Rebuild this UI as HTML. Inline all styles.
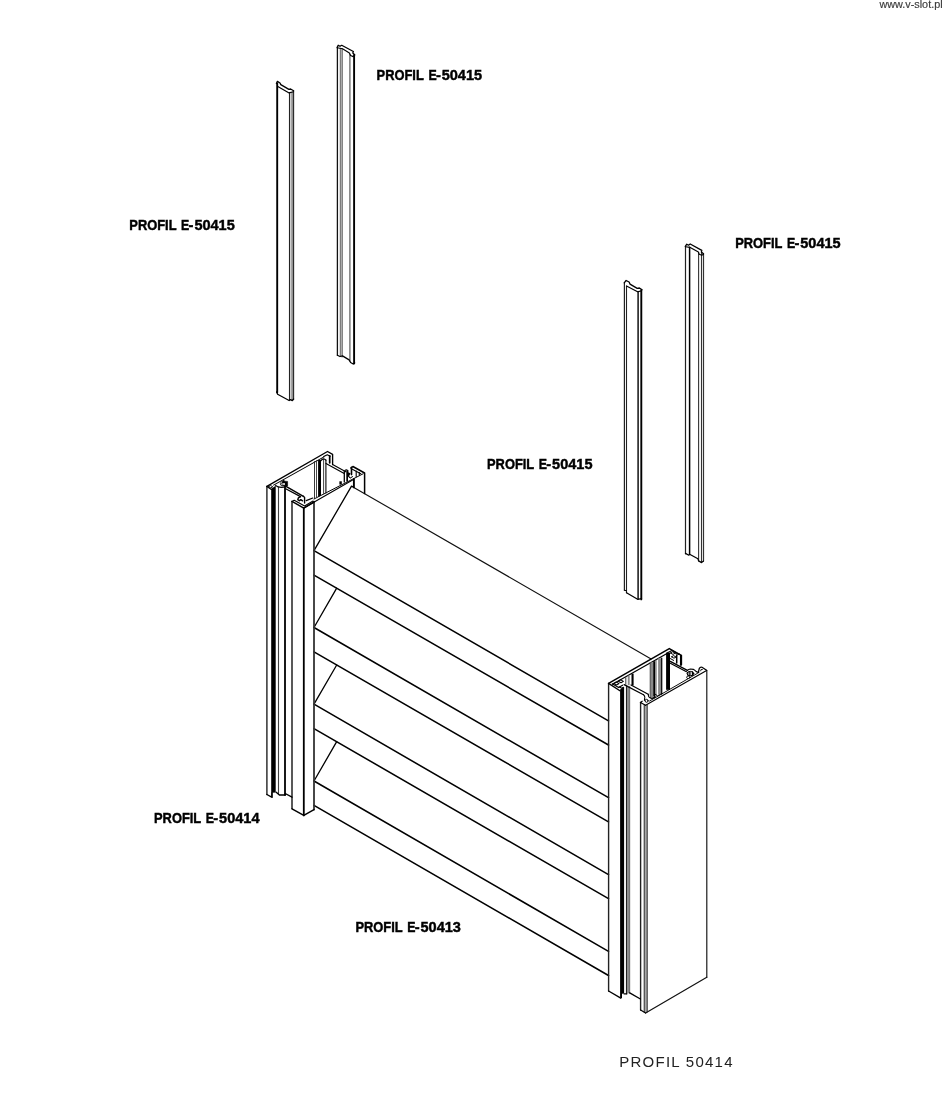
<!DOCTYPE html>
<html lang="pl">
<head>
<meta charset="utf-8">
<title>PROFIL 50414</title>
<style>
html,body{margin:0;padding:0;background:#fff;}
body{width:942px;height:1100px;overflow:hidden;position:relative;font-family:"Liberation Sans",sans-serif;}
svg{position:absolute;left:0;top:0;display:block;will-change:transform;}
svg text{font-family:"Liberation Sans",sans-serif;}
.lb{font-weight:bold;font-size:14.6px;fill:#000;stroke:#000;stroke-width:0.45px;stroke-linejoin:miter;}
</style>
</head>
<body>
<svg width="942" height="1100" viewBox="0 0 942 1100" stroke-linecap="round" stroke-linejoin="round">
<!-- strip 1 -->
<line x1="277.2" y1="83.5" x2="277.2" y2="392.4" stroke="#000" stroke-width="1.9"/>
<line x1="289.5" y1="92.5" x2="289.5" y2="400.0" stroke="#222" stroke-width="1.1"/>
<line x1="291.2" y1="92.3" x2="291.2" y2="400.0" stroke="#666" stroke-width="0.8"/>
<line x1="292.4" y1="92.0" x2="292.4" y2="400.0" stroke="#666" stroke-width="0.8"/>
<line x1="293.6" y1="90.8" x2="293.6" y2="399.6" stroke="#222" stroke-width="1.1"/>
<polyline points="276.4,83.5 277.4,81.4 280.0,83.0 280.8,84.6 288.9,89.4 290.6,89.0 293.6,90.8" fill="none" stroke="#000" stroke-width="1.3" />
<polyline points="277.8,86.5 289.1,92.9 293.4,91.8" fill="none" stroke="#000" stroke-width="1.15" />
<polyline points="276.6,391.8 277.6,394.2 289.1,400.5 290.5,399.6 292.3,400.6 293.6,399.0" fill="none" stroke="#000" stroke-width="1.25" />
<!-- strip 2 -->
<line x1="337.4" y1="47.4" x2="337.4" y2="355.0" stroke="#111" stroke-width="1.3"/>
<line x1="340.3" y1="48.3" x2="340.3" y2="356.3" stroke="#333" stroke-width="0.8"/>
<line x1="342.1" y1="48.7" x2="342.1" y2="357.0" stroke="#333" stroke-width="1.0"/>
<line x1="349.9" y1="54.5" x2="349.9" y2="361.0" stroke="#666" stroke-width="1.3"/>
<line x1="354.1" y1="55.0" x2="354.1" y2="363.5" stroke="#000" stroke-width="1.9"/>
<polyline points="337.2,47.4 338.2,45.3 340.0,46.3 341.7,45.3 353.4,51.5 352.8,53.0 354.7,54.7" fill="none" stroke="#000" stroke-width="1.3" />
<polyline points="337.2,47.8 342.5,48.7 349.4,52.9 350.6,55.5 353.2,56.6 354.7,55.2" fill="none" stroke="#000" stroke-width="1.15" />
<polyline points="337.3,355.2 340.0,356.5 342.5,355.9 349.1,359.9 350.6,362.5 353.2,364.0 354.7,362.9" fill="none" stroke="#000" stroke-width="1.25" />
<!-- strip 3 -->
<line x1="624.4" y1="282.8" x2="624.4" y2="590.0" stroke="#222" stroke-width="1.2"/>
<line x1="626.5" y1="286.0" x2="626.5" y2="592.8" stroke="#222" stroke-width="1.1"/>
<line x1="638.1" y1="291.8" x2="638.1" y2="599.0" stroke="#111" stroke-width="1.5"/>
<line x1="641.3" y1="290.0" x2="641.3" y2="599.4" stroke="#000" stroke-width="1.9"/>
<polyline points="624.2,282.8 626.1,280.5 629.1,282.0 630.0,284.1 637.2,288.4 639.4,288.0 642.1,289.7" fill="none" stroke="#000" stroke-width="1.3" />
<polyline points="626.5,286.0 637.6,291.8 641.5,290.9" fill="none" stroke="#000" stroke-width="1.15" />
<polyline points="624.4,590.2 626.3,590.8" fill="none" stroke="#000" stroke-width="1.2" />
<polyline points="626.5,592.8 637.6,599.3 641.5,598.6" fill="none" stroke="#000" stroke-width="1.3" />
<!-- strip 4 -->
<line x1="685.5" y1="246.5" x2="685.5" y2="553.8" stroke="#222" stroke-width="1.2"/>
<line x1="689.6" y1="247.3" x2="689.6" y2="554.6" stroke="#000" stroke-width="1.5"/>
<line x1="698.6" y1="252.5" x2="698.6" y2="560.9" stroke="#333" stroke-width="1.1"/>
<line x1="701.5" y1="252.0" x2="701.5" y2="562.5" stroke="#333" stroke-width="1.1"/>
<line x1="703.5" y1="253.8" x2="703.5" y2="561.1" stroke="#333" stroke-width="1.2"/>
<polyline points="685.3,246.3 686.8,244.2 688.5,245.2 690.2,244.0 701.8,250.4 701.4,252.1 703.5,253.8" fill="none" stroke="#000" stroke-width="1.3" />
<polyline points="685.5,246.7 690.2,247.4 698.4,252.1 699.2,254.2 701.8,255.3 703.5,254.2" fill="none" stroke="#000" stroke-width="1.15" />
<polyline points="685.5,553.4 688.8,555.2 689.6,554.2 697.9,558.8 698.6,560.9 701.6,562.6 703.5,561.1" fill="none" stroke="#000" stroke-width="1.25" />
<!-- louvres -->
<line x1="314.0" y1="550.7" x2="608.5" y2="720.9" stroke="#000" stroke-width="1.55"/>
<line x1="314.0" y1="575.1" x2="608.5" y2="745.0" stroke="#000" stroke-width="1.55"/>
<line x1="314.0" y1="627.5" x2="608.5" y2="797.7" stroke="#000" stroke-width="1.55"/>
<line x1="314.0" y1="651.9" x2="608.5" y2="821.8" stroke="#000" stroke-width="1.55"/>
<line x1="314.0" y1="704.2" x2="608.5" y2="874.6" stroke="#000" stroke-width="1.55"/>
<line x1="314.0" y1="728.6" x2="608.5" y2="898.7" stroke="#000" stroke-width="1.55"/>
<line x1="314.0" y1="781.0" x2="608.5" y2="951.4" stroke="#000" stroke-width="1.55"/>
<line x1="314.0" y1="805.4" x2="608.5" y2="975.5" stroke="#000" stroke-width="1.55"/>
<polyline points="314.0,550.7 351.5,486.1 353.8,487.4" fill="none" stroke="#000" stroke-width="1.3" />
<line x1="353.8" y1="487.4" x2="651.1" y2="658.9" stroke="#111" stroke-width="1.15"/>
<line x1="314.0" y1="627.5" x2="336.7" y2="588.2" stroke="#000" stroke-width="1.3"/>
<line x1="314.0" y1="704.2" x2="336.7" y2="665.0" stroke="#000" stroke-width="1.3"/>
<line x1="314.0" y1="781.0" x2="336.7" y2="741.7" stroke="#000" stroke-width="1.3"/>
<!-- left post -->
<line x1="266.9" y1="486.4" x2="266.9" y2="794.5" stroke="#222" stroke-width="1.4"/>
<polygon points="271.2,489.4 275.7,485.6 275.7,792.6 272.2,792.8 272.2,797.0 271.2,796.6" fill="#000" stroke="none" stroke-width="0"/>
<line x1="278.5" y1="487.0" x2="278.5" y2="793.8" stroke="#444" stroke-width="1.1"/>
<line x1="285.0" y1="487.0" x2="285.0" y2="795.0" stroke="#000" stroke-width="1.8"/>
<line x1="292.0" y1="501.4" x2="292.0" y2="808.6" stroke="#222" stroke-width="1.5"/>
<line x1="303.8" y1="508.1" x2="303.8" y2="815.4" stroke="#000" stroke-width="1.8"/>
<line x1="314.0" y1="501.6" x2="314.0" y2="809.5" stroke="#333" stroke-width="1.8"/>
<polyline points="266.9,794.5 272.1,797.4 272.1,792.8" fill="none" stroke="#000" stroke-width="1.37" />
<polyline points="276.2,792.2 279.4,795.0 285.2,795.0 285.2,793.5 292.0,797.2" fill="none" stroke="#000" stroke-width="1.37" />
<polyline points="292.0,808.9 303.8,815.4 314.0,809.7" fill="none" stroke="#000" stroke-width="1.49" />
<polyline points="266.9,486.4 327.5,451.5 332.6,454.3 332.6,464.6" fill="none" stroke="#000" stroke-width="1.35" />
<line x1="273.6" y1="485.1" x2="324.0" y2="456.9" stroke="#000" stroke-width="1.05"/>
<polyline points="266.9,486.4 271.4,489.4 274.4,487.7" fill="none" stroke="#000" stroke-width="1.25" />
<path d="M275.7,485.4 L278.2,486.9 Q282,488 285.9,486.4" fill="none" stroke="#000" stroke-width="1.2"/>
<polyline points="268.6,486.6 270.8,487.9 272.8,486.8 270.6,485.5 268.6,486.6" fill="none" stroke="#000" stroke-width="0.9" />
<polyline points="323.7,456.6 327.3,454.8 330.2,456.2" fill="none" stroke="#000" stroke-width="1.13" />
<line x1="329.7" y1="455.8" x2="329.7" y2="462.8" stroke="#000" stroke-width="1.73"/>
<path d="M281.4,481.8 Q279.0,483.7 281.4,485.8 L287.6,485.9 L287.6,481.4 L284.8,481.2 L283.5,479.8 L282.6,481.3 Z" fill="#000" stroke="#000" stroke-width="0.6"/>
<rect x="282.3" y="483.0" width="2.7" height="2.0" fill="#c4c4c4"/>
<path d="M281.6,482.2 Q280.4,483.6 281.6,485.0" fill="none" stroke="#fff" stroke-width="0.7"/>
<line x1="285.6" y1="486.1" x2="303.4" y2="496.3" stroke="#000" stroke-width="1.37"/>
<line x1="285.7" y1="488.8" x2="300.5" y2="496.6" stroke="#000" stroke-width="1.25"/>
<polyline points="303.4,496.3 304.6,497.4 304.6,503.0" fill="none" stroke="#000" stroke-width="1.37" />
<polyline points="300.5,496.6 298.4,497.8 297.8,499.6 299.4,500.8 300.8,499.6 302.6,500.8" fill="none" stroke="#000" stroke-width="1.4" />
<polyline points="292.0,501.4 303.8,508.1 314.0,502.0" fill="none" stroke="#000" stroke-width="1.49" />
<polyline points="292.0,501.4 294.2,500.2 304.6,506.0 313.0,501.0" fill="none" stroke="#000" stroke-width="1.13" />
<line x1="303.8" y1="507.9" x2="352.6" y2="480.0" stroke="#000" stroke-width="1.1"/>
<line x1="306.2" y1="500.6" x2="312.8" y2="498.0" stroke="#000" stroke-width="1.2"/>
<line x1="314.0" y1="499.0" x2="363.1" y2="473.8" stroke="#000" stroke-width="1.0"/>
<line x1="314.5" y1="461.6" x2="314.5" y2="498.7" stroke="#222" stroke-width="0.9"/>
<line x1="316.5" y1="460.6" x2="316.5" y2="497.7" stroke="#333" stroke-width="0.9"/>
<polygon points="318.1,460.0 321.0,460.0 321.0,495.4 318.1,496.9" fill="#000" stroke="none" stroke-width="0"/>
<line x1="323.6" y1="459.4" x2="323.6" y2="494.0" stroke="#444" stroke-width="1.0"/>
<line x1="325.9" y1="460.0" x2="325.9" y2="492.9" stroke="#222" stroke-width="1.25"/>
<path d="M321.0,460.6 Q323.5,457.4 325.9,460.2" fill="none" stroke="#000" stroke-width="1.2"/>
<line x1="332.6" y1="464.6" x2="345.8" y2="471.8" stroke="#000" stroke-width="1.15"/>
<line x1="326.0" y1="463.4" x2="344.2" y2="473.4" stroke="#000" stroke-width="1.15"/>
<line x1="344.3" y1="472.2" x2="344.3" y2="482.0" stroke="#000" stroke-width="1.3"/>
<rect x="346.3" y="470.2" width="1.7" height="11.4" fill="#000"/>
<path d="M344.2,471.6 Q346.4,468.2 348.2,471" fill="none" stroke="#000" stroke-width="1.2"/>
<polygon points="348.0,472.0 350.6,473.6 348.0,477.8" fill="#000" stroke="none" stroke-width="0"/>
<rect x="339.4" y="481.3" width="2.4" height="3.3" fill="#000"/>
<line x1="351.5" y1="467.3" x2="351.5" y2="474.6" stroke="#000" stroke-width="1.6"/>
<polyline points="350.9,468.0 352.9,466.5 364.6,473.0 364.6,493.6" fill="none" stroke="#000" stroke-width="1.5" />
<line x1="352.3" y1="469.2" x2="360.8" y2="473.7" stroke="#000" stroke-width="1.1"/>
<line x1="356.2" y1="471.0" x2="356.2" y2="476.6" stroke="#000" stroke-width="1.1"/>
<line x1="359.3" y1="472.6" x2="359.3" y2="475.2" stroke="#000" stroke-width="1.1"/>
<polyline points="347.8,474.4 350.0,478.2 352.6,476.6" fill="none" stroke="#000" stroke-width="1.0" />
<line x1="353.9" y1="479.0" x2="353.9" y2="487.4" stroke="#000" stroke-width="1.9"/>
<!-- right post -->
<line x1="608.6" y1="683.4" x2="608.6" y2="991.0" stroke="#222" stroke-width="1.4"/>
<polygon points="620.1,689.6 624.1,686.8 624.1,993.4 622.0,993.8 622.0,998.2 620.1,997.4" fill="#000" stroke="none" stroke-width="0"/>
<rect x="627.1" y="686.6" width="2.6" height="306.7" fill="#8a8a8a"/>
<line x1="626.5" y1="685.6" x2="626.5" y2="993.8" stroke="#222" stroke-width="1.1"/>
<line x1="629.7" y1="686.5" x2="629.7" y2="993.0" stroke="#555" stroke-width="0.77"/>
<line x1="640.6" y1="702.5" x2="640.6" y2="1010.0" stroke="#222" stroke-width="1.4"/>
<rect x="644.1" y="705.2" width="3.2" height="307.3" fill="#a8a8a8"/>
<line x1="644.2" y1="704.8" x2="644.2" y2="1012.0" stroke="#333" stroke-width="1.01"/>
<line x1="647.2" y1="705.0" x2="647.2" y2="1012.0" stroke="#333" stroke-width="1.01"/>
<line x1="706.8" y1="670.4" x2="706.8" y2="977.2" stroke="#111" stroke-width="1.15"/>
<polyline points="608.6,991.0 620.8,998.2" fill="none" stroke="#000" stroke-width="1.37" />
<polyline points="624.0,993.8 626.9,993.8" fill="none" stroke="#000" stroke-width="1.25" />
<polyline points="629.7,992.9 640.4,999.0" fill="none" stroke="#000" stroke-width="1.37" />
<polyline points="640.6,1010.0 645.6,1013.0" fill="none" stroke="#000" stroke-width="1.3" />
<line x1="645.6" y1="1013.0" x2="706.8" y2="977.2" stroke="#111" stroke-width="1.2"/>
<polyline points="608.6,683.4 669.3,648.6 681.4,655.3 681.4,664.8" fill="none" stroke="#000" stroke-width="1.49" />
<line x1="612.5" y1="684.2" x2="667.0" y2="653.4" stroke="#000" stroke-width="1.2"/>
<polyline points="608.6,683.4 619.9,690.8" fill="none" stroke="#000" stroke-width="1.37" />
<polyline points="612.3,683.8 618.6,687.6 622.6,685.2" fill="none" stroke="#000" stroke-width="1.13" />
<polyline points="613.8,683.4 616.6,685.0 619.0,683.6 616.2,682.0 613.8,683.4" fill="none" stroke="#000" stroke-width="1.01" />
<polyline points="618.2,681.2 621.0,682.8 623.4,681.4 620.6,679.8 618.2,681.2" fill="none" stroke="#000" stroke-width="1.01" />
<polyline points="619.2,686.8 621.6,688.2 623.4,687.2" fill="none" stroke="#000" stroke-width="1.01" />
<line x1="625.8" y1="677.8" x2="625.8" y2="684.4" stroke="#222" stroke-width="0.9"/>
<rect x="627.8" y="675.7" width="1.9" height="9.5" fill="#8a8a8a"/>
<rect x="631.5" y="673.6" width="2.1" height="11.8" fill="#000"/>
<line x1="631.0" y1="685.0" x2="648.2" y2="694.2" stroke="#000" stroke-width="1.2"/>
<line x1="624.1" y1="684.6" x2="643.5" y2="694.7" stroke="#000" stroke-width="1.2"/>
<path d="M648.2,694.2 L648.6,696.4 Q649.4,697.8 650.6,697.9 L653.8,698.0 Q654.8,697.6 654.8,696.4" fill="none" stroke="#000" stroke-width="1.1"/>
<path d="M643.5,694.7 Q644.9,696.2 644.8,697.4 L644.4,700.4" fill="none" stroke="#000" stroke-width="1.1"/>
<circle cx="646.6" cy="700.8" r="1.5" fill="#fff" stroke="#000" stroke-width="1.0"/>
<polyline points="642.2,701.2 640.4,702.4 645.6,705.3" fill="none" stroke="#000" stroke-width="1.15" />
<line x1="645.6" y1="705.3" x2="706.6" y2="670.6" stroke="#000" stroke-width="1.1"/>
<line x1="649.6" y1="701.0" x2="699.0" y2="672.4" stroke="#000" stroke-width="0.95"/>
<rect x="650.2" y="662.4" width="2.9" height="34.8" fill="#8a8a8a"/>
<rect x="653.2" y="661.2" width="2.0" height="35.4" fill="#000"/>
<line x1="650.2" y1="662.4" x2="650.2" y2="697.6" stroke="#444" stroke-width="0.89"/>
<rect x="658.1" y="658.3" width="2.9" height="36.3" fill="#8a8a8a"/>
<line x1="661.7" y1="658.0" x2="661.7" y2="694.0" stroke="#000" stroke-width="1.25"/>
<line x1="656.0" y1="660.5" x2="656.0" y2="695.8" stroke="#444" stroke-width="0.89"/>
<polyline points="654.8,693.9 657.6,695.9 661.8,693.6" fill="none" stroke="#000" stroke-width="1.0" />
<polyline points="650.0,697.6 652.0,698.6 655.2,696.8" fill="none" stroke="#000" stroke-width="1.01" />
<rect x="666.1" y="652.7" width="3.9" height="37.1" fill="#000"/>
<polyline points="667.0,653.1 672.0,650.6 678.6,654.2" fill="none" stroke="#000" stroke-width="1.13" />
<polyline points="670.4,653.0 673.0,654.4 675.2,653.2 672.6,651.8 670.4,653.0" fill="none" stroke="#000" stroke-width="1.0" />
<polyline points="671.6,656.8 674.0,658.2 676.0,657.0 673.6,655.6 671.6,656.8" fill="none" stroke="#000" stroke-width="1.0" />
<polyline points="675.4,653.6 677.6,654.8 679.4,653.9" fill="none" stroke="#000" stroke-width="0.9" />
<line x1="676.7" y1="655.6" x2="676.7" y2="663.0" stroke="#000" stroke-width="1.5"/>
<line x1="680.8" y1="655.6" x2="680.8" y2="665.0" stroke="#000" stroke-width="1.7"/>
<line x1="670.4" y1="658.6" x2="673.6" y2="660.4" stroke="#000" stroke-width="1.0"/>
<line x1="670.3" y1="661.4" x2="687.4" y2="670.4" stroke="#000" stroke-width="1.25"/>
<line x1="670.3" y1="663.2" x2="686.5" y2="671.7" stroke="#000" stroke-width="1.25"/>
<path d="M687.4,670.4 Q688.6,669.2 690.4,669.0 L693.3,669.3 Q695,670.4 696.3,671.6 L698.5,672.5" fill="none" stroke="#000" stroke-width="1.2"/>
<ellipse cx="690.4" cy="673.6" rx="3.4" ry="2.2" fill="#fff" stroke="#000" stroke-width="1.0"/>
<line x1="687.8" y1="672.2" x2="687.8" y2="675.0" stroke="#000" stroke-width="1.1"/>
<line x1="689.9" y1="672.0" x2="689.9" y2="675.4" stroke="#000" stroke-width="1.3"/>
<line x1="692.5" y1="672.0" x2="692.5" y2="675.2" stroke="#000" stroke-width="1.3"/>
<ellipse cx="688.2" cy="677.3" rx="1.6" ry="1.3" fill="#fff" stroke="#000" stroke-width="0.9"/>
<path d="M698.3,672.4 L699.3,668.4 Q700.4,666.6 702,667.3 L706.6,670.3" fill="none" stroke="#000" stroke-width="1.25"/>
<path d="M700.6,670.8 Q700.4,668.6 702.4,669.4" fill="none" stroke="#000" stroke-width="0.9"/>
<!-- labels -->
<g><text class="lb" x="376.6" y="80.3" textLength="47.2" lengthAdjust="spacingAndGlyphs">PROFIL </text><text class="lb" x="428.4" y="80.3" textLength="8.2" lengthAdjust="spacingAndGlyphs">E</text><text class="lb" x="435.9" y="80.3" textLength="4.9" lengthAdjust="spacingAndGlyphs">-</text><text class="lb" x="441.7" y="80.3" textLength="40.4" lengthAdjust="spacingAndGlyphs">50415</text></g>
<g><text class="lb" x="129.3" y="229.6" textLength="47.2" lengthAdjust="spacingAndGlyphs">PROFIL </text><text class="lb" x="181.1" y="229.6" textLength="8.2" lengthAdjust="spacingAndGlyphs">E</text><text class="lb" x="188.6" y="229.6" textLength="4.9" lengthAdjust="spacingAndGlyphs">-</text><text class="lb" x="194.4" y="229.6" textLength="40.4" lengthAdjust="spacingAndGlyphs">50415</text></g>
<g><text class="lb" x="735.2" y="247.5" textLength="47.2" lengthAdjust="spacingAndGlyphs">PROFIL </text><text class="lb" x="787.0" y="247.5" textLength="8.2" lengthAdjust="spacingAndGlyphs">E</text><text class="lb" x="794.5" y="247.5" textLength="4.9" lengthAdjust="spacingAndGlyphs">-</text><text class="lb" x="800.3" y="247.5" textLength="40.4" lengthAdjust="spacingAndGlyphs">50415</text></g>
<g><text class="lb" x="487.0" y="469.3" textLength="47.2" lengthAdjust="spacingAndGlyphs">PROFIL </text><text class="lb" x="538.8" y="469.3" textLength="8.2" lengthAdjust="spacingAndGlyphs">E</text><text class="lb" x="546.3" y="469.3" textLength="4.9" lengthAdjust="spacingAndGlyphs">-</text><text class="lb" x="552.1" y="469.3" textLength="40.4" lengthAdjust="spacingAndGlyphs">50415</text></g>
<g><text class="lb" x="154.0" y="823.0" textLength="47.2" lengthAdjust="spacingAndGlyphs">PROFIL </text><text class="lb" x="205.8" y="823.0" textLength="8.2" lengthAdjust="spacingAndGlyphs">E</text><text class="lb" x="213.3" y="823.0" textLength="4.9" lengthAdjust="spacingAndGlyphs">-</text><text class="lb" x="219.1" y="823.0" textLength="40.4" lengthAdjust="spacingAndGlyphs">50414</text></g>
<g><text class="lb" x="355.4" y="932.4" textLength="47.2" lengthAdjust="spacingAndGlyphs">PROFIL </text><text class="lb" x="407.2" y="932.4" textLength="8.2" lengthAdjust="spacingAndGlyphs">E</text><text class="lb" x="414.7" y="932.4" textLength="4.9" lengthAdjust="spacingAndGlyphs">-</text><text class="lb" x="420.5" y="932.4" textLength="40.4" lengthAdjust="spacingAndGlyphs">50413</text></g>
<text x="619.2" y="1067.2" font-size="15" fill="#222" textLength="113.3" lengthAdjust="spacing">PROFIL 50414</text>
<text x="879.4" y="7.6" font-size="10.3" fill="#3a3a3a" stroke="#3a3a3a" stroke-width="0.15" textLength="63.2" lengthAdjust="spacingAndGlyphs">www.v-slot.pl</text>
</svg>
</body>
</html>
